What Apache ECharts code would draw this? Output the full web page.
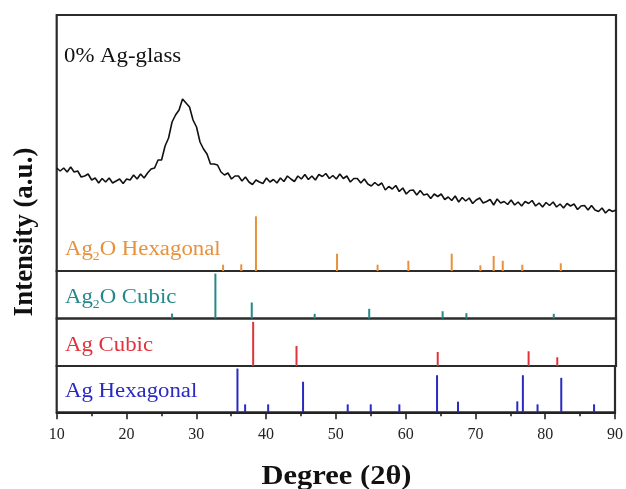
<!DOCTYPE html>
<html>
<head>
<meta charset="utf-8">
<script src="https://cdn.jsdelivr.net/npm/echarts@6/dist/echarts.min.js"></script>
<style>
html,body{margin:0;padding:0;background:#fff;}
#chart{width:626px;height:489px;}
</style>
</head>
<body>
<div id="chart"></div>
<script>
// ---- DATA ----
// XRD pattern of 0% Ag-glass, sampled from 10° to 90° every 0.5° (arbitrary intensity units)
const thetaStart = 10;
const thetaStep = 0.5;
const glassIntensity = [
103,100,103,99,104,99,100,94,95,97,91,93,88,92.5,89,93,88,90,92,87.5,
92,91,96,92,97,93,98,102,103,111,111,125,133,149,156,161,172,168,164,151,
144,129,122,117,107,107,106,99,96,98,92,95,95,90,94,89,86.5,91,89,87.5,
93,89,91.5,88,93,89.5,95,92,89.5,95,92,96.5,91.5,95,91,96.5,94.5,97.5,92.5,95.5,
92,97,92.5,95,89,92.5,92.5,88,92,87,85,88.5,85.5,88,81,84.5,82,85.5,79.5,83,
77,80.5,81,76,80.5,76,77,72.5,77,74.5,77,71.5,74,70.5,75,69,73.5,70,73,67.5,
71,73,68,69.5,71.5,66,72,68,69.5,66.5,71,66,69,65,69.5,67.5,70.5,65,68,64,
68.5,65.5,69,64,67,63,67.5,65,67,61.5,65,65.5,61,65.5,61,59.5,63,58,61.5,59.5,
61
];

// Reference patterns: peak positions (2θ) and relative intensities (%)
const ag2oHexPos = [33.8, 36.4, 38.5, 50.1, 55.9, 60.3, 66.5, 70.6, 72.5, 73.8, 76.6, 82.1];
const ag2oHexInt = [11.5, 12.2, 100, 31.6, 11.5, 18.8, 31.6, 10.4, 27.4, 18.8, 11.5, 14.1];

const ag2oCubPos = [26.5, 32.7, 37.9, 46.9, 54.7, 65.2, 68.6, 81.1];
const ag2oCubInt = [11, 100, 35.6, 10.4, 21.6, 16.2, 11.8, 10.4];

const agCubPos = [38.1, 44.3, 64.5, 77.5, 81.6];
const agCubInt = [100, 45.5, 31.8, 33.4, 19.8];

const agHexPos = [35.9, 37.0, 40.3, 45.3, 51.7, 55.0, 59.1, 64.5, 67.5, 76.0, 76.8, 78.9, 82.3, 87.0];
const agHexInt = [100, 18.2, 18.2, 69.8, 18.2, 18.2, 18.2, 84.8, 24.3, 25, 84.8, 18.2, 78.9, 18.2];

const xTicks = [10, 20, 30, 40, 50, 60, 70, 80, 90];

// ---- BUILD ----
const glassData = glassIntensity.map((v, i) => [thetaStart + i * thetaStep, v]);
const pair = (p, q) => p.map((x, i) => [x, q[i]]);

const FONT = '"Liberation Serif", "Times New Roman", serif';
const C_ORANGE = '#E8913A';
const C_TEAL = '#24898A';
const C_RED = '#E1323A';
const C_BLUE = '#2A2AC2';

const L = 56.7, R = 10;
const grids = [
  {left: L, right: R, top: 15, height: 256},
  {left: L, right: R, top: 271, height: 47.5},
  {left: L, right: R, top: 318.5, height: 47.5},
  {left: L, right: R, top: 366, height: 46.3}
].map(g => Object.assign(g, {show: true, borderColor: '#2b2b2b', borderWidth: 2.2, backgroundColor: 'transparent', containLabel: false}));

const hiddenX = (gi) => ({type: 'value', gridIndex: gi, min: 10, max: 90, show: false});
const xAxes = [hiddenX(0), hiddenX(1), hiddenX(2), {
  type: 'value', gridIndex: 3, min: xTicks[0], max: xTicks[xTicks.length - 1], interval: 10,
  axisLine: {show: true, lineStyle: {color: '#222', width: 2.2}},
  axisTick: {show: true, inside: false, length: 7, lineStyle: {color: '#222', width: 1.6}},
  minorTick: {show: true, splitNumber: 2, length: 4, lineStyle: {color: '#222', width: 1.6}},
  splitLine: {show: false},
  axisLabel: {show: true, margin: 14, fontSize: 16, color: '#222', fontFamily: FONT}
}];

const hiddenY = (gi, max) => ({type: 'value', gridIndex: gi, min: 0, max: max, show: false, splitLine: {show: false}});
const yAxes = [hiddenY(0, 256), hiddenY(0, 468), hiddenY(1, 105.8), hiddenY(2, 107.7), hiddenY(3, 105.9)];

const stick = (name, data, xi, yi, color) => ({
  type: 'bar', name, data, xAxisIndex: xi, yAxisIndex: yi, barWidth: 2,
  itemStyle: {color}, silent: true, animation: false
});

const panelLabel = (x, y, text, color, sub) => ({
  type: 'text', x, y, scaleX: 1.14, scaleY: 1, silent: true,
  style: {
    text: sub ? '{a|Ag}{s|2}{a|' + text + '}' : '{a|' + text + '}',
    rich: {
      a: {fontSize: 20, fontFamily: FONT, fill: color, lineHeight: 25},
      s: {fontSize: 12, fontFamily: FONT, fill: color, verticalAlign: 'bottom', lineHeight: 25}
    },
    align: 'left', verticalAlign: 'middle'
  }
});

const option = {
  animation: false,
  backgroundColor: '#fff',
  grid: grids,
  xAxis: xAxes,
  yAxis: yAxes,
  series: [
    {type: 'line', data: glassData, xAxisIndex: 0, yAxisIndex: 0, symbol: 'none', smooth: false,
     lineStyle: {color: '#111', width: 1.6}, silent: true},
    stick('Ag2O Hexagonal', pair(ag2oHexPos, ag2oHexInt), 0, 1, C_ORANGE),
    stick('Ag2O Cubic', pair(ag2oCubPos, ag2oCubInt), 1, 2, C_TEAL),
    stick('Ag Cubic', pair(agCubPos, agCubInt), 2, 3, C_RED),
    stick('Ag Hexagonal', pair(agHexPos, agHexInt), 3, 4, C_BLUE)
  ],
  graphic: [
    {type: 'text', x: 64, y: 57, scaleX: 1.14, silent: true,
     style: {text: '0% Ag-glass', fontSize: 20, fontFamily: FONT, fill: '#111', align: 'left', verticalAlign: 'middle'}},
    panelLabel(65, 250, 'O Hexagonal', C_ORANGE, true),
    panelLabel(65, 298, 'O Cubic', C_TEAL, true),
    panelLabel(65, 346, 'Ag Cubic', C_RED, false),
    panelLabel(65, 392, 'Ag Hexagonal', C_BLUE, false),
    {type: 'text', x: 336.5, y: 477, scaleX: 1.13, silent: true,
     style: {text: 'Degree (2θ)', fontSize: 27, fontWeight: 'bold', fontFamily: FONT, fill: '#111', align: 'center', verticalAlign: 'middle'}},
    {type: 'text', x: 25, y: 232, rotation: Math.PI / 2, silent: true,
     style: {text: 'Intensity (a.u.)', fontSize: 27, fontWeight: 'bold', fontFamily: FONT, fill: '#111', align: 'center', verticalAlign: 'middle'}}
  ]
};

const chart = echarts.init(document.getElementById('chart'), null, {renderer: 'canvas'});
chart.setOption(option);
</script>
</body>
</html>
